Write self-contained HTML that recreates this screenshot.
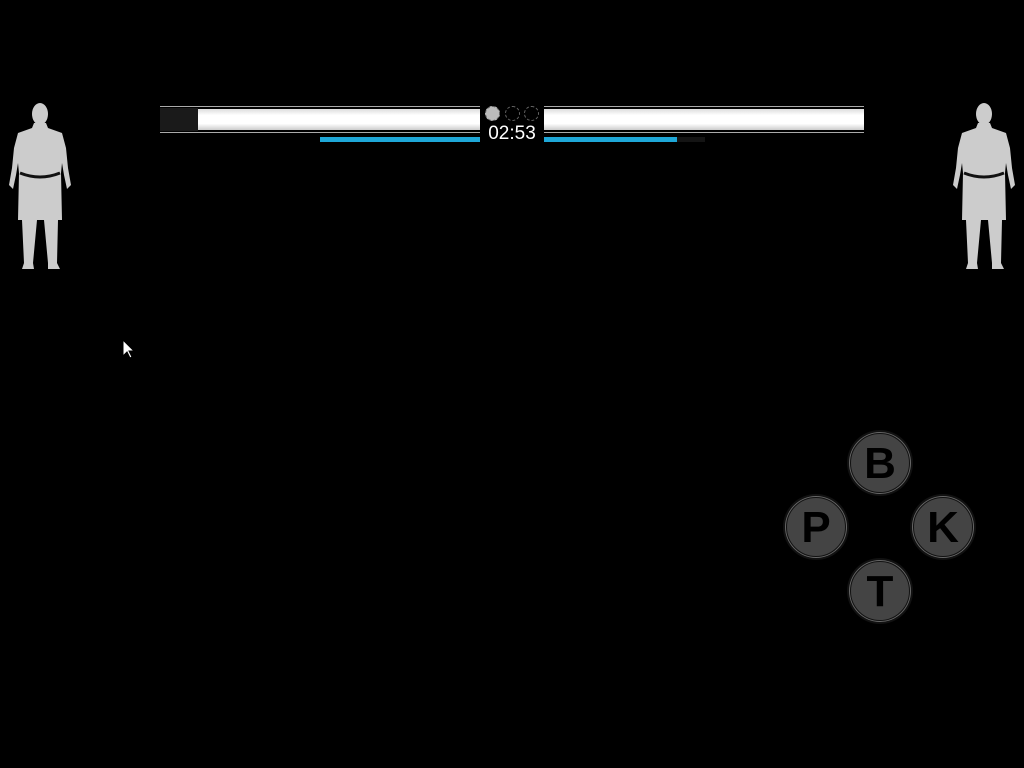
<!DOCTYPE html>
<html><head><style>
body{margin:0;width:1024px;height:768px;background:#000;overflow:hidden;position:relative;font-family:"Liberation Sans",sans-serif}
.a{position:absolute}
.btn{position:absolute;width:58px;height:58px;border-radius:50%;background:#444;border:1px solid #111;box-shadow:0 0 0 1px #666,0 0 0 3px #111;color:#000;font-size:44px;text-align:center;line-height:60px;font-weight:bold}
</style></head><body>
<div class="a" style="left:160px;top:106px;width:320px;height:1px;background:#aaa"></div>
<div class="a" style="left:160px;top:132px;width:320px;height:1px;background:#aaa"></div>
<div class="a" style="left:160px;top:108px;width:38px;height:23px;background:#1a1a1a"></div>
<div class="a" style="left:198px;top:109px;width:282px;height:21px;background:linear-gradient(#ddd,#fff 30%,#fff 70%,#ccc)"></div>
<div class="a" style="left:544px;top:106px;width:320px;height:1px;background:#aaa"></div>
<div class="a" style="left:544px;top:132px;width:320px;height:1px;background:#aaa"></div>
<div class="a" style="left:544px;top:109px;width:320px;height:21px;background:linear-gradient(#ddd,#fff 30%,#fff 70%,#ccc)"></div>
<div class="a" style="left:320px;top:137px;width:160px;height:5px;background:#1ea7d8"></div>
<div class="a" style="left:544px;top:137px;width:133px;height:5px;background:#1ea7d8"></div>
<div class="a" style="left:677px;top:137px;width:28px;height:5px;background:#141414"></div>
<div class="a" style="left:485px;top:106px;width:13px;height:13px;border-radius:50%;background:#bbb;border:1px dashed #666"></div>
<div class="a" style="left:505px;top:106px;width:13px;height:13px;border-radius:50%;border:1px dashed #666"></div>
<div class="a" style="left:524px;top:106px;width:13px;height:13px;border-radius:50%;border:1px dashed #666"></div>
<div class="a" style="left:478px;top:123px;width:68px;text-align:center;color:#fff;font-size:19px">02:53</div>
<svg class="a" style="left:8px;top:103px" width="64" height="168" viewBox="0 0 64 168">
<g fill="#ccc"><ellipse cx="32" cy="11" rx="8" ry="11"/><path d="M26 20L38 20L40 25L54 30L58 45L60 65L63 82L59 86L56 72L54 60L53 70L54 117L50 117L49 160L52 166L40 166L40 160L36 117L29 117L25 160L26 166L14 166L16 160L14 117L10 117L11 70L10 60L8 72L5 86L1 82L4 65L6 45L10 30L24 25Z"/></g>
<path d="M12 70q20 8 40 0" stroke="#111" stroke-width="3" fill="none"/>
</svg>
<svg class="a" style="left:952px;top:103px" width="64" height="168" viewBox="0 0 64 168">
<g fill="#ccc"><ellipse cx="32" cy="11" rx="8" ry="11"/><path d="M26 20L38 20L40 25L54 30L58 45L60 65L63 82L59 86L56 72L54 60L53 70L54 117L50 117L49 160L52 166L40 166L40 160L36 117L29 117L25 160L26 166L14 166L16 160L14 117L10 117L11 70L10 60L8 72L5 86L1 82L4 65L6 45L10 30L24 25Z"/></g>
<path d="M12 70q20 8 40 0" stroke="#111" stroke-width="3" fill="none"/>
</svg>
<svg class="a" style="left:122px;top:339px" width="14" height="20"><path d="M1 1v16l4-4 3 6 2-1-3-6h5z" fill="#fff" stroke="#000"/></svg>
<div class="btn" style="left:850px;top:433px">B</div>
<div class="btn" style="left:786px;top:497px">P</div>
<div class="btn" style="left:913px;top:497px">K</div>
<div class="btn" style="left:850px;top:561px">T</div>
</body></html>
